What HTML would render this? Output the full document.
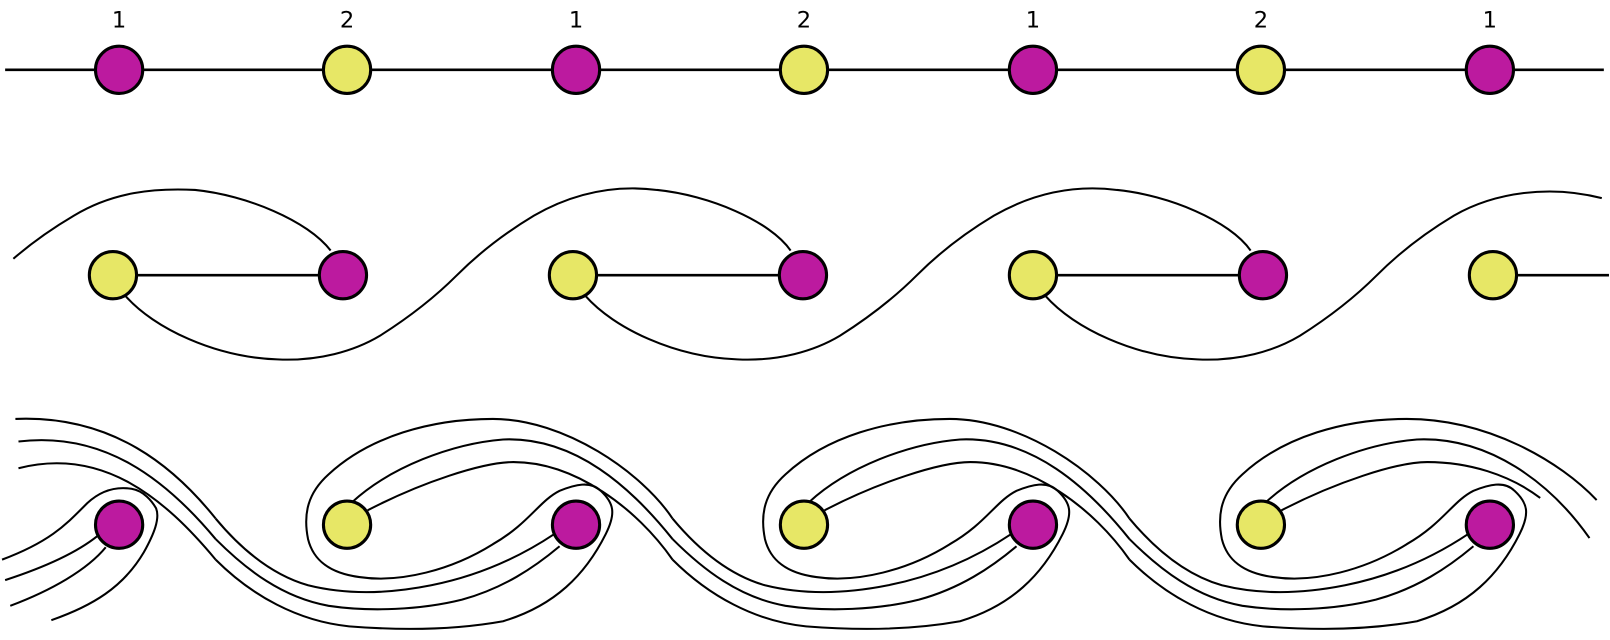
<!DOCTYPE html>
<html><head><meta charset="utf-8"><style>
html,body{margin:0;padding:0;background:#fff;}
svg{display:block;}
text{font-family:"DejaVu Sans","Liberation Sans",sans-serif;font-size:22px;text-anchor:middle;}
</style></head><body>
<svg width="1610" height="640" viewBox="0 0 1568 623.3" preserveAspectRatio="none" xmlns="http://www.w3.org/2000/svg">
<defs>
<g id="mid">
<path d="M122,288 C150,320 210,348 270,350 C310,352 345,342 370,327 C400,308 425,288 445,268 C470,243 495,225 520,210 C560,187 600,180 640,185 C690,190 750,215 770,244" fill="none" stroke="#000" stroke-width="2"/>
</g>
<g id="bot" fill="none" stroke="#000" stroke-width="2">
<path d="M210,505 C235,535 265,560 300,570 C340,580 380,578 420,570 C470,560 510,540 540,520"/>
<path d="M210,525 C240,555 275,582 320,590 C360,596 410,594 450,584 C490,573 520,553 545,532"/>
<path d="M210,545 C245,580 290,605 340,610 C390,614 440,614 490,605 C540,590 570,560 590,520 C600,500 598,490 585,478 C575,468 560,472 545,478 C525,488 515,510 480,530 C440,555 390,568 350,562 C320,558 305,545 300,525 C295,500 300,480 320,462 C360,425 420,408 480,408 C550,408 625,460 655,505"/>
<path d="M343,489 C380,455 440,432 490,428 C560,425 615,475 655,525"/>
<path d="M358,497 C410,470 470,450 500,450 C560,450 620,495 655,545"/>
</g>
</defs>

<line x1="5" y1="68" x2="1562" y2="68" stroke="#000" stroke-width="2.5"/>
<g stroke="#000" stroke-width="3">
<circle cx="116" cy="68" r="23" fill="#bc1a9f"/>
<circle cx="338" cy="68" r="23" fill="#e7e766"/>
<circle cx="561" cy="68" r="23" fill="#bc1a9f"/>
<circle cx="783" cy="68" r="23" fill="#e7e766"/>
<circle cx="1006" cy="68" r="23" fill="#bc1a9f"/>
<circle cx="1228" cy="68" r="23" fill="#e7e766"/>
<circle cx="1451" cy="68" r="23" fill="#bc1a9f"/>
</g>
<text x="116" y="27">1</text><text x="338" y="27">2</text><text x="561" y="27">1</text><text x="783" y="27">2</text><text x="1006" y="27">1</text><text x="1228" y="27">2</text><text x="1451" y="27">1</text>

<path d="M13,252 C35,233 55,220 72,210 C110,187 150,183 190,185 C240,190 300,215 322,244" fill="none" stroke="#000" stroke-width="2"/>
<use href="#mid"/>
<use href="#mid" transform="translate(448,0)"/>
<path d="M1018,288 C1046,320 1106,348 1166,350 C1206,352 1241,342 1266,327 C1296,308 1321,288 1341,268 C1366,243 1391,225 1416,210 C1456,187 1510,180 1560,193" fill="none" stroke="#000" stroke-width="2"/>
<g stroke="#000" stroke-width="2.5">
<line x1="110" y1="268" x2="334" y2="268"/>
<line x1="558" y1="268" x2="782" y2="268"/>
<line x1="1006" y1="268" x2="1230" y2="268"/>
<line x1="1454" y1="268" x2="1567" y2="268"/>
</g>
<g stroke="#000" stroke-width="3">
<circle cx="110" cy="268" r="23" fill="#e7e766"/>
<circle cx="334" cy="268" r="23" fill="#bc1a9f"/>
<circle cx="558" cy="268" r="23" fill="#e7e766"/>
<circle cx="782" cy="268" r="23" fill="#bc1a9f"/>
<circle cx="1006" cy="268" r="23" fill="#e7e766"/>
<circle cx="1230" cy="268" r="23" fill="#bc1a9f"/>
<circle cx="1454" cy="268" r="23" fill="#e7e766"/>
</g>

<g fill="none" stroke="#000" stroke-width="2">
<path d="M15,408 C110,404 170,455 210,505"/>
<path d="M18,430 C100,420 160,465 210,525"/>
<path d="M18,456 C100,435 160,485 210,545"/>
<path d="M2,545 C50,527 65,510 85,490 C100,476 115,474 128,476 C140,478 148,488 152,495 C156,505 150,520 140,538 C120,572 90,590 50,604"/>
<path d="M5,565 C45,552 75,538 95,522"/>
<path d="M10,590 C50,575 85,555 103,533"/>
</g>
<use href="#bot"/>
<use href="#bot" transform="translate(445,0)"/>
<g fill="none" stroke="#000" stroke-width="2">
<path d="M1100,505 C1125,535 1155,560 1190,570 C1230,580 1270,578 1310,570 C1360,560 1400,540 1430,520"/>
<path d="M1100,525 C1130,555 1165,582 1210,590 C1250,596 1300,594 1340,584 C1380,573 1410,553 1435,532"/>
<path d="M1100,545 C1135,580 1180,605 1230,610 C1280,614 1330,614 1380,605 C1430,590 1460,560 1480,520 C1490,500 1488,490 1475,478 C1465,468 1450,472 1435,478 C1415,488 1405,510 1370,530 C1330,555 1280,568 1240,562 C1210,558 1195,545 1190,525 C1185,500 1190,480 1210,462 C1250,425 1310,408 1370,408 C1450,408 1520,450 1555,487"/>
<path d="M1233,489 C1270,455 1330,432 1380,428 C1450,425 1510,470 1548,524"/>
<path d="M1248,497 C1300,470 1360,450 1390,450 C1430,450 1470,462 1500,485"/>
</g>
<g stroke="#000" stroke-width="3">
<circle cx="116" cy="511" r="23" fill="#bc1a9f"/>
<circle cx="338" cy="511" r="23" fill="#e7e766"/>
<circle cx="561" cy="511" r="23" fill="#bc1a9f"/>
<circle cx="783" cy="511" r="23" fill="#e7e766"/>
<circle cx="1006" cy="511" r="23" fill="#bc1a9f"/>
<circle cx="1228" cy="511" r="23" fill="#e7e766"/>
<circle cx="1451" cy="511" r="23" fill="#bc1a9f"/>
</g>
</svg>
</body></html>
